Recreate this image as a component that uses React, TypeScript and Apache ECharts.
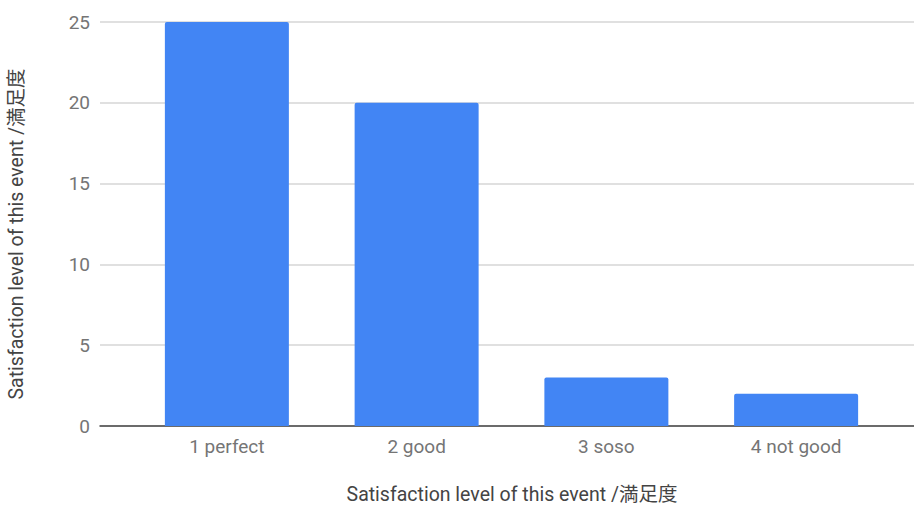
import React, { useEffect, useRef } from "react";
import * as echarts from "echarts";

const categories = ["1 perfect", "2 good", "3 soso", "4 not good"];
const counts = [25, 20, 3, 2];
const axisTitle = "Satisfaction level of this event /満足度";

const FONT = "Roboto, 'Noto Sans CJK JP', sans-serif";

export default function App() {
  const ref = useRef<HTMLDivElement>(null);
  useEffect(() => {
    if (!ref.current) return;
    const chart = echarts.init(ref.current, null, { renderer: "svg" });
    chart.setOption({
      animation: false,
      backgroundColor: "#ffffff",
      textStyle: { fontFamily: FONT },
      grid: [
        { left: 100, right: 0, top: 22, bottom: 79, outerBoundsMode: "none", containLabel: false },
        { left: 132, right: 23, top: 22, bottom: 79, outerBoundsMode: "none", containLabel: false },
      ],
      xAxis: [
        {
          gridIndex: 0,
          type: "value",
          min: 0,
          max: 1,
          axisLine: { show: true, onZero: false, lineStyle: { color: "#444444", width: 1.5 } },
          axisTick: { show: false },
          axisLabel: { show: false },
          splitLine: { show: false },
          name: axisTitle,
          nameLocation: "middle",
          nameGap: 58,
          nameTextStyle: {
            color: "#444444",
            fontSize: 19.5,
            lineHeight: 20,
            fontFamily: FONT,
            padding: [0, 0, 0, 10],
          },
        },
        {
          gridIndex: 1,
          type: "category",
          data: categories,
          axisLine: { show: false },
          axisTick: { show: false },
          axisLabel: { color: "#757575", fontSize: 19, margin: 11, fontFamily: FONT },
        },
      ],
      yAxis: [
        {
          gridIndex: 0,
          type: "value",
          min: 0,
          max: 25,
          interval: 5,
          axisLine: { show: false },
          axisTick: { show: false },
          axisLabel: { color: "#757575", fontSize: 19, margin: 10, fontFamily: FONT },
          splitLine: { lineStyle: { color: "#d6d6d6", width: 1.5 } },
          name: axisTitle,
          nameLocation: "middle",
          nameGap: 74,
          nameTextStyle: { color: "#444444", fontSize: 19.5, fontFamily: FONT, padding: [0, 20, 0, 0] },
        },
        {
          gridIndex: 1,
          type: "value",
          min: 0,
          max: 25,
          interval: 5,
          show: false,
          splitLine: { show: false },
        },
      ],
      series: [
        {
          type: "bar",
          xAxisIndex: 1,
          yAxisIndex: 1,
          data: counts,
          barWidth: 124,
          itemStyle: { color: "#4285f4", borderRadius: [2, 2, 0, 0] },
          z: 1,
        },
      ],
    });
    return () => chart.dispose();
  }, []);
  return (
    <div
      ref={ref}
      style={{ position: "fixed", left: 0, top: 0, width: 914, height: 505 }}
    />
  );
}
